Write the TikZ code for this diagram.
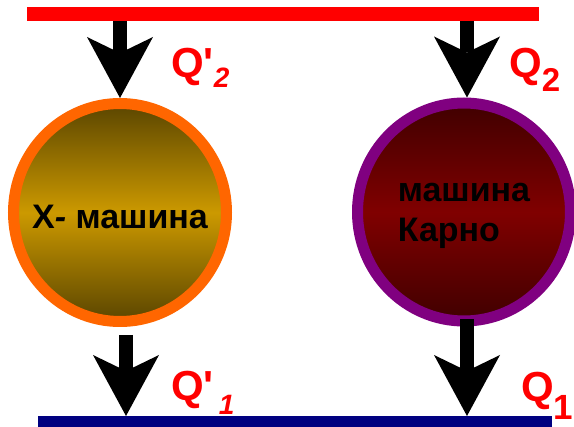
\documentclass[tikz,border=0pt]{standalone}
\usepackage{fontspec}
\setmainfont{Liberation Sans}[Ligatures=TeXOff]
\usetikzlibrary{arrows.meta,shapes.geometric}
\definecolor{ringorange}{HTML}{FF6600}
\definecolor{ringpurple}{HTML}{800080}
\definecolor{goldmid}{HTML}{CC9900}
\definecolor{golddark}{HTML}{5A4500}
\definecolor{redmid}{HTML}{800000}
\definecolor{reddark}{HTML}{400000}
\definecolor{coldblue}{HTML}{000080}
\tikzset{machine/.style={ellipse,draw,line width=11pt,minimum width=213pt,minimum height=218pt,inner sep=0pt},
  bar/.style={rectangle,inner sep=0pt,outer sep=0pt},
  flow/.style={-{Stealth[length=61pt,width=66pt,inset=16pt,line width=0pt]},line width=14pt},
  qlab/.style={text=red,inner sep=0pt,anchor=base west,font=\fontsize{42}{42}\selectfont\bfseries},
  mtext/.style={inner sep=0pt,font=\fontsize{34}{40}\selectfont\bfseries}}

\begin{document}
\begin{tikzpicture}[x=1pt,y=-1pt]
  \path[use as bounding box] (0,0) rectangle (574,427);
  \node[bar,fill=red,minimum width=512pt,minimum height=14pt] (hot) at (283,14) {};
  \node[bar,fill=coldblue,minimum width=514pt,minimum height=12pt] (cold) at (295,422) {};
  \node[machine,draw=ringorange,top color=golddark,bottom color=golddark,middle color=goldmid] (xm) at (120,212.5) {};
  \node[machine,draw=ringpurple,top color=reddark,bottom color=reddark,middle color=redmid] (cm) at (464,212) {};
  \node[mtext] (xmt) at ([yshift=-4pt]xm.center) {X\textit{-} машина};
  \node[mtext,align=left] (cmt) at ([yshift=-3.5pt]cm.center) {машина\\Карно};
  % heat flows
  \draw[flow] (xm.north |- hot.south) -- (xm.north);
  \draw[flow] ([xshift=3pt]cm.north |- hot.south) -- ([xshift=3pt]cm.north);
  \draw[flow] ([xshift=6pt,yshift=-8pt]xm.south) -- ([xshift=6pt]xm.south |- cold.north);
  \draw[flow] ([xshift=3pt,yshift=7pt]cm.south) -- ([xshift=3pt]cm.south |- cold.north);
  \node[qlab] (q2x) at (171,78) {Q'\lower10pt\hbox{\fontsize{28}{28}\selectfont\bfseries\itshape 2}};
  \node[qlab] (q2c) at (509,78) {Q\lower14pt\hbox{\fontsize{33}{33}\selectfont\bfseries 2}};
  \node[qlab] (q1x) at (171,401) {Q'\kern5pt\lower14pt\hbox{\fontsize{28}{28}\selectfont\bfseries\itshape 1}};
  \node[qlab] (q1c) at (521,402) {Q\lower18pt\hbox{\fontsize{35}{35}\selectfont\bfseries 1}};
\end{tikzpicture}
\end{document}
